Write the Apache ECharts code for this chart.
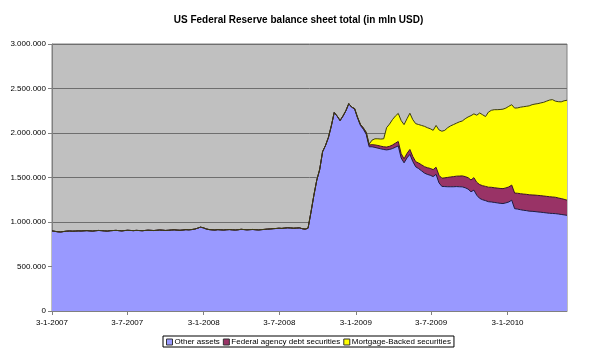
<!DOCTYPE html>
<html>
<head>
<meta charset="utf-8">
<script src="https://cdn.jsdelivr.net/npm/echarts@6/dist/echarts.min.js"></script>
<style>
  html, body { margin: 0; padding: 0; background: #fff; }
  #chart { width: 597px; height: 354px; }
</style>
</head>
<body>
<div id="chart"></div>
<script>
// weekly observations (wednesdays) starting 3-1-2007, values in mln USD
const firstWeek = [2007, 1, 3];

const otherAssets = [
  900000, 895000, 890000, 888000, 893000, 897000, 899000, 897000, 898000, 900000,
  899000, 901000, 903000, 900000, 898000, 902000, 905000, 903000, 900000, 898000,
  902000, 904000, 906000, 903000, 900000, 904000, 907000, 905000, 903000, 906000,
  904000, 902000, 905000, 908000, 906000, 904000, 907000, 910000, 908000, 905000,
  907000, 910000, 912000, 909000, 907000, 910000, 914000, 912000, 915000, 920000,
  930000, 942000, 935000, 922000, 915000, 912000, 910000, 914000, 912000, 910000,
  913000, 915000, 912000, 910000, 913000, 918000, 915000, 912000, 914000, 916000,
  913000, 911000, 914000, 917000, 920000, 922000, 925000, 927000, 930000, 928000,
  932000, 935000, 933000, 930000, 932000, 934000, 925000, 920000, 930000, 1110000,
  1300000, 1470000, 1590000, 1790000, 1860000, 1950000, 2080000, 2230000, 2190000, 2140000,
  2190000, 2250000, 2330000, 2290000, 2270000, 2170000, 2085000, 2042000, 1985000, 1845000,
  1845000, 1838000, 1830000, 1822000, 1815000, 1810000, 1815000, 1825000, 1840000, 1855000,
  1720000, 1665000, 1720000, 1760000, 1680000, 1620000, 1600000, 1575000, 1550000, 1535000,
  1525000, 1510000, 1535000, 1440000, 1400000, 1398000, 1396000, 1396000, 1396000, 1398000,
  1396000, 1395000, 1385000, 1370000, 1340000, 1358000, 1300000, 1265000, 1250000, 1240000,
  1228000, 1225000, 1220000, 1215000, 1210000, 1207000, 1215000, 1225000, 1245000, 1150000,
  1145000, 1138000, 1132000, 1128000, 1122000, 1120000, 1117000, 1113000, 1110000, 1106000,
  1102000, 1098000, 1096000, 1094000, 1090000, 1085000, 1080000, 1075000
];

// agency debt and MBS are listed from week 104 (31-12-2008); before that they are 0
const purchasesStartWeek = 104;

const agencyDebt = [
  5000, 8000, 12000, 15000, 18000, 20000, 24000, 28000, 30000, 30000,
  30000, 32000, 35000, 40000, 45000, 50000, 48000, 45000, 50000, 55000,
  56000, 58000, 62000, 68000, 72000, 75000, 77000, 78000, 80000, 85000,
  92000, 98000, 105000, 110000, 114000, 117000, 120000, 123000, 125000, 128000,
  132000, 140000, 145000, 155000, 158000, 160000, 163000, 165000, 165000, 166000,
  167000, 168000, 168000, 169000, 170000, 175000, 178000, 180000, 182000, 183000,
  184000, 184000, 185000, 186000, 186000, 186000, 186000, 186000, 185000, 184000,
  180000, 178000, 175000, 170000
];

const mortgageBacked = [
  0, 0, 0, 0, 7000, 10000, 51000, 69000, 75000, 80000,
  90000, 218000, 250000, 285000, 305000, 315000, 372000, 384000, 390000, 407000,
  414000, 427000, 433000, 442000, 453000, 450000, 446000, 442000, 470000, 510000,
  528000, 534000, 559000, 574000, 585000, 595000, 609000, 617000, 650000, 682000,
  723000, 717000, 755000, 805000, 797000, 785000, 844000, 865000, 877000, 881000,
  887000, 893000, 897000, 906000, 903000, 955000, 959000, 972000, 981000, 989000,
  999000, 1014000, 1023000, 1031000, 1042000, 1053000, 1070000, 1086000, 1094000, 1080000,
  1082000, 1087000, 1107000, 1123000
];

const tickLabels = ['3-1-2007', '3-7-2007', '3-1-2008', '3-7-2008', '3-1-2009', '3-7-2009', '3-1-2010'];
const seriesNames = ['Other assets', 'Federal agency debt securities', 'Mortgage-Backed securities'];

const DAY = 86400000;
const t0 = Date.UTC(firstWeek[0], firstWeek[1] - 1, firstWeek[2]);
const weeks = otherAssets.map((v, i) => t0 + i * 7 * DAY);
const tEnd = weeks[weeks.length - 1];

function parseDmy(s) {
  const p = s.split('-').map(Number);
  return Date.UTC(p[2], p[1] - 1, p[0]);
}
const tickValues = tickLabels.map(parseDmy);
const labelByTime = {};
tickLabels.forEach((l, i) => { labelByTime[tickValues[i]] = l; });

function pairs(values, offset) {
  return weeks.map((t, i) => [t, i < offset ? 0 : values[i - offset]]);
}

function dotted(v) {
  return String(v).replace(/\B(?=(\d{3})+(?!\d))/g, '.');
}

const fills = ['#9999ff', '#993366', '#ffff00'];
const outlines = ['#1c1c44', '#3a1025', '#3d3d10'];
const seriesData = [pairs(otherAssets, 0), pairs(agencyDebt, purchasesStartWeek), pairs(mortgageBacked, purchasesStartWeek)];

const chart = echarts.init(document.getElementById('chart'));
const font = 'Arial';

const option = {
  animation: false,
  backgroundColor: '#ffffff',
  title: {
    text: 'US Federal Reserve balance sheet total (in mln USD)',
    left: 'center',
    top: 15,
    padding: 0,
    textStyle: { fontFamily: font, fontSize: 10, fontWeight: 'bold', color: '#000' }
  },
  legend: {
    data: seriesNames,
    left: 163,
    top: 336,
    icon: 'rect',
    itemWidth: 6,
    itemHeight: 6,
    itemGap: 3,
    padding: [2, 3, 1, 3],
    borderColor: '#000',
    borderWidth: 1,
    itemStyle: { borderColor: '#333', borderWidth: 1 },
    textStyle: { fontFamily: font, fontSize: 8, color: '#000', padding: [0, 0, 0, -3] }
  },
  grid: {
    left: 52, right: 30, top: 44, bottom: 43,
    show: true,
    backgroundColor: '#c0c0c0',
    borderColor: '#808080',
    borderWidth: 1
  },
  xAxis: [
    {
      // time axis carrying the weekly series
      type: 'time',
      min: t0,
      max: tEnd,
      show: false,
      splitLine: { show: false }
    },
    {
      // same time span in ms, only used to draw the ticks at the labelled dates
      type: 'value',
      position: 'bottom',
      min: t0,
      max: tEnd,
      axisLine: { show: true, onZero: false, lineStyle: { color: '#808080' } },
      axisTick: { show: true, customValues: tickValues, length: 4, lineStyle: { color: '#808080' } },
      axisLabel: {
        customValues: tickValues,
        formatter: v => labelByTime[v] || '',
        fontFamily: font, fontSize: 8, color: '#000', margin: 8
      },
      splitLine: { show: false }
    }
  ],
  yAxis: {
    type: 'value',
    min: 0,
    max: 3000000,
    interval: 500000,
    axisLine: { show: true, lineStyle: { color: '#808080' } },
    axisTick: { show: true, length: 4, lineStyle: { color: '#808080' } },
    axisLabel: { formatter: dotted, fontFamily: font, fontSize: 8, color: '#000', margin: 6 },
    splitLine: { lineStyle: { color: '#6e6e6e', width: 1 } }
  },
  series: seriesNames.map((name, k) => ({
    name: name,
    type: 'line',
    stack: 'total',
    xAxisIndex: 0,
    symbol: 'none',
    showSymbol: false,
    data: seriesData[k],
    itemStyle: { color: fills[k] },
    lineStyle: { width: 1, color: outlines[k] },
    areaStyle: { color: fills[k], opacity: 1 }
  }))
};
chart.setOption(option);
</script>
</body>
</html>
